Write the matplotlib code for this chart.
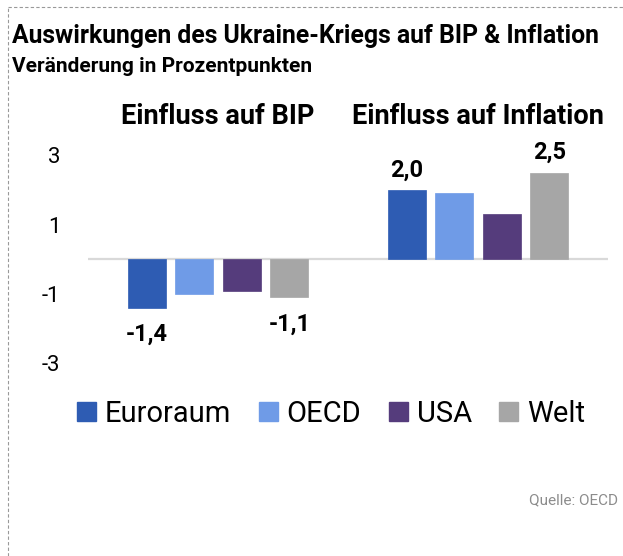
import matplotlib.pyplot as plt
from matplotlib.patches import Patch
import matplotlib.lines as mlines
import numpy as np

plt.rcParams['font.family'] = ['Roboto', 'DejaVu Sans']

# Daten
gruppen = ['Einfluss auf BIP', 'Einfluss auf Inflation']
regionen = ['Euroraum', 'OECD', 'USA', 'Welt']
farben = ['#2E5CB3', '#6F9BE7', '#553C7C', '#A6A6A6']
bip = [-1.4, -1.0, -0.9, -1.1]
inflation = [2.0, 1.9, 1.3, 2.5]
yticks = [-3, -1, 1, 3]

werte = np.array([bip, inflation])  # zeilen = gruppen

fig = plt.figure(figsize=(6.23, 5.56), dpi=100)
ax = fig.add_axes([88 / 623, 1 - 380 / 556, 520 / 623, 240 / 556])

x = np.arange(len(gruppen))
step = 0.183
width = 0.146
for i, (reg, col) in enumerate(zip(regionen, farben)):
    ax.bar(x + (i - 1.5) * step, werte[:, i], width=width, color=col,
           edgecolor=col, linewidth=0.5, zorder=3)

ax.axhline(0, color='#d9d9d9', linewidth=1.6, zorder=2)
ax.set_xlim(-0.5, 1.5)
ax.set_ylim(-3.48, 3.44)
ax.set_yticks(yticks)
ax.set_yticklabels([str(t) for t in yticks], fontsize=16)
ax.tick_params(axis='y', length=0, pad=20)
ax.set_xticks([])
for s in ax.spines.values():
    s.set_visible(False)

# Gruppentitel oben
for xi, g in zip(x, gruppen):
    ax.annotate(g, (xi, 1.0), xycoords=('data', 'axes fraction'), xytext=(0, 7),
                textcoords='offset points', ha='center', va='bottom',
                fontsize=19.5, fontweight='bold')

# Wertbeschriftungen (nur Euroraum und Welt)
for gi in range(len(gruppen)):
    for i in [0, 3]:
        v = werte[gi, i]
        xp = x[gi] + (i - 1.5) * step
        txt = f'{v:.1f}'.replace('.', ',')
        if v < 0:
            ax.annotate(txt, (xp, v), xytext=(0, -11), textcoords='offset points',
                        ha='center', va='top', fontsize=17, fontweight='bold')
        else:
            ax.annotate(txt, (xp, v), xytext=(0, 6), textcoords='offset points',
                        ha='center', va='bottom', fontsize=17, fontweight='bold')

# Titel
fig.text(12 / 623, 1 - 36 / 556, 'Auswirkungen des Ukraine-Kriegs auf BIP & Inflation',
         fontsize=17.8, fontweight='bold', va='center', ha='left')
fig.text(12 / 623, 1 - 66 / 556, 'Veränderung in Prozentpunkten',
         fontsize=15, fontweight='bold', va='center', ha='left')

# Legende
handles = [Patch(facecolor=c, edgecolor=c) for c in farben]
fig.legend(handles, regionen, loc='center', bbox_to_anchor=(331 / 623, 1 - 414 / 556),
           ncol=4, frameon=False, fontsize=21, handlelength=0.65, handleheight=0.62,
           handletextpad=0.3, columnspacing=0.95)

# Quelle
fig.text(618 / 623, 1 - 500 / 556, 'Quelle: OECD', fontsize=11, color='#8c8c8c',
         ha='right', va='center')

# gestrichelter Rahmen
fig.add_artist(mlines.Line2D([8 / 623, 1], [1 - 7 / 556, 1 - 7 / 556], color='#999999',
                             linestyle=(0, (3, 2)), linewidth=0.8))
fig.add_artist(mlines.Line2D([8 / 623, 8 / 623], [0, 1 - 7 / 556], color='#999999',
                             linestyle=(0, (3, 2)), linewidth=0.8))

fig.savefig('out.png', dpi=100)
